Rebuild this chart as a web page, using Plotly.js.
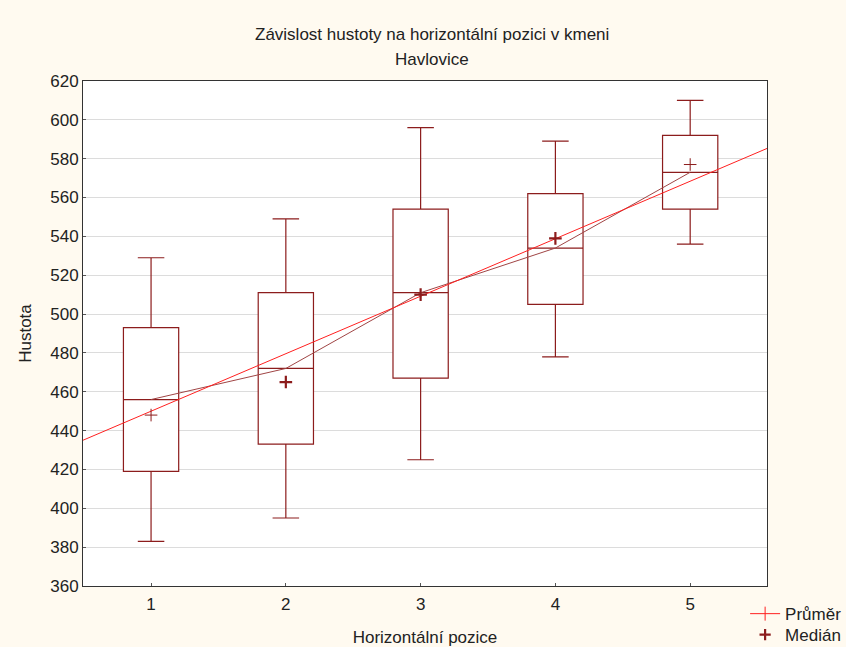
<!DOCTYPE html>
<html>
<head>
<meta charset="utf-8">
<script src="https://cdn.plot.ly/plotly-3.0.1.min.js"></script>
<style>html,body{margin:0;padding:0;background:#fffaf0;}#chart{width:846px;height:647px;}</style>
</head>
<body>
<div id="chart"></div>
<script>
// Data
const positions = [1, 2, 3, 4, 5];
const centers = [456, 472, 511, 534, 573];      // box centre line (Průměr)
const q1 = [419, 433, 467, 505, 554];
const q3 = [493, 511, 554, 562, 592];
const lowWhisker = [383, 395, 425, 478, 536];
const highWhisker = [529, 549, 596, 589, 610];
const medians = [448, 465, 510, 539, 577];        // + markers (Medián)
const tickLabels = ['1', '2', '3', '4', '5'];
const titleLines = ['Závislost hustoty na horizontální pozici v kmeni', 'Havlovice'];

const boxColor = '#8c1c1c';
const xRange = [0.495, 5.57];

// least-squares fit through the centre values
const n = positions.length;
const mx = positions.reduce((a, b) => a + b, 0) / n;
const my = centers.reduce((a, b) => a + b, 0) / n;
let sxy = 0, sxx = 0;
for (let i = 0; i < n; i++) { sxy += (positions[i] - mx) * (centers[i] - my); sxx += (positions[i] - mx) ** 2; }
const slope = sxy / sxx;
const intercept = my - slope * mx;
const fitX = xRange;
const fitY = fitX.map(x => intercept + slope * x);

const traces = [
  {
    type: 'box', x: positions, q1: q1, median: centers, q3: q3,
    lowerfence: lowWhisker, upperfence: highWhisker,
    width: 0.41, whiskerwidth: 0.48, fillcolor: '#ffffff',
    line: {color: boxColor, width: 1.2}, showlegend: false, hoverinfo: 'skip'
  },
  {
    type: 'scatter', mode: 'lines', x: positions, y: centers,
    line: {color: '#a04545', width: 1}, showlegend: false, hoverinfo: 'skip'
  },
  {
    type: 'scatter', mode: 'lines', x: fitX, y: fitY,
    line: {color: '#ff2020', width: 1}, showlegend: false, hoverinfo: 'skip'
  },
  {
    type: 'scatter', mode: 'markers', x: positions, y: medians, showlegend: false,
    marker: {symbol: 'cross-thin', size: 9, color: boxColor, line: {color: boxColor, width: [1, 2.2, 2.2, 2.2, 1]}},
    hoverinfo: 'skip'
  },
  {
    type: 'scatter', mode: 'lines+markers', x: [null], y: [null], name: 'Průměr', legend: 'legend',
    line: {color: '#ff2020', width: 1},
    marker: {symbol: 'line-ns', size: 10, color: '#ff2020', line: {color: '#ff2020', width: 1}}
  },
  {
    type: 'scatter', mode: 'markers', x: [null], y: [null], name: 'Medián', legend: 'legend2',
    marker: {symbol: 'cross-thin', size: 8, color: boxColor, line: {color: boxColor, width: 2.2}}
  }
];

const legendStyle = {
  xanchor: 'left', yanchor: 'top', bgcolor: 'rgba(0,0,0,0)',
  font: {size: 17, color: '#222222'}, itemwidth: 30, tracegroupgap: 0
};

const layout = {
  width: 846, height: 647,
  paper_bgcolor: '#fffaf0', plot_bgcolor: '#ffffff',
  margin: {l: 83, r: 79, t: 81, b: 61, autoexpand: false},
  font: {family: 'Liberation Sans, Arial, sans-serif', size: 17, color: '#222222'},
  annotations: [
    {text: titleLines[0], xref: 'paper', yref: 'paper', x: 0.510, y: 1.093, xanchor: 'center', yanchor: 'middle', showarrow: false, font: {size: 17, color: '#222222'}},
    {text: titleLines[1], xref: 'paper', yref: 'paper', x: 0.510, y: 1.0416, xanchor: 'center', yanchor: 'middle', showarrow: false, font: {size: 17, color: '#222222'}}
  ],
  xaxis: {
    range: xRange, tickvals: positions, ticktext: tickLabels,
    showgrid: false, zeroline: false, showline: true, mirror: true,
    linecolor: '#333333', linewidth: 1, ticks: 'inside', ticklen: 3, tickcolor: '#555555',
    ticklabelstandoff: 3, tickfont: {size: 17},
    title: {text: 'Horizontální pozice', standoff: 17, font: {size: 17}}
  },
  yaxis: {
    range: [360, 620], dtick: 20, showgrid: true, gridcolor: '#dcdcdc', gridwidth: 1,
    zeroline: false, showline: true, mirror: true, linecolor: '#333333', linewidth: 1,
    ticks: 'inside', ticklen: 3, tickcolor: '#555555', tickfont: {size: 17},
    title: {text: 'Hustota', standoff: 14, font: {size: 17}}
  },
  legend: Object.assign({x: 0.968, y: -0.02}, legendStyle),
  legend2: Object.assign({x: 0.968, y: -0.0616}, legendStyle),
  showlegend: true
};

Plotly.newPlot('chart', traces, layout, {displayModeBar: false});
</script>
</body>
</html>
